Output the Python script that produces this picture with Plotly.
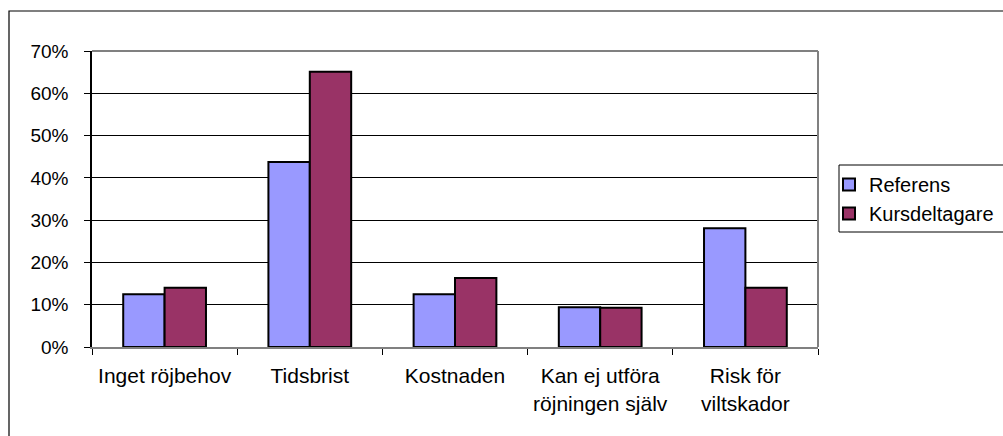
import plotly.graph_objects as go

categories = ["Inget röjbehov", "Tidsbrist", "Kostnaden",
              "Kan ej utföra<br>röjningen själv", "Risk för<br>viltskador"]
referens = [0.125, 0.4375, 0.125, 0.094, 0.281]
kursdeltagare = [0.14, 0.651, 0.163, 0.093, 0.14]
y_ticks = [0, 0.1, 0.2, 0.3, 0.4, 0.5, 0.6, 0.7]

FAMILY = "Arial, Liberation Sans, sans-serif"

fig = go.Figure()
fig.add_trace(go.Bar(x=categories, y=referens, name="Referens",
                     marker=dict(color="#9999FF", line=dict(color="#000000", width=2))))
fig.add_trace(go.Bar(x=categories, y=kursdeltagare, name="Kursdeltagare",
                     marker=dict(color="#993366", line=dict(color="#000000", width=2))))

W, H = 1003, 436
L, R, T, B = 92, 185, 51, 89
pw, ph = W - L - R, H - T - B

def px_x(v):
    return (v - L) / pw

def px_y(v):
    return (H - B - v) / ph

fig.update_layout(
    width=W, height=H,
    margin=dict(l=L, r=R, t=T, b=B, autoexpand=False),
    paper_bgcolor="#FFFFFF", plot_bgcolor="#FFFFFF",
    font=dict(family=FAMILY, size=19, color="#000000"),
    barmode="group", bargap=0.43, bargroupgap=0,
    showlegend=True,
    legend=dict(x=px_x(829), y=px_y(165), xanchor="left", yanchor="top",
                borderwidth=0, bgcolor="rgba(0,0,0,0)",
                font=dict(family=FAMILY, size=20, color="#000000"),
                tracegroupgap=0, itemwidth=30),
    shapes=[
        # outer chart frame
        dict(type="rect", xref="paper", yref="paper",
             x0=px_x(9), x1=px_x(1010), y0=px_y(440), y1=px_y(11),
             line=dict(color="#000000", width=1.2), layer="below"),
        # legend frame
        dict(type="rect", xref="paper", yref="paper",
             x0=px_x(839), x1=px_x(1010), y0=px_y(232), y1=px_y(165),
             line=dict(color="#000000", width=1), layer="below"),
        # plot area frame (top/right in grey)
        dict(type="line", xref="paper", yref="paper", x0=0, x1=1, y0=1, y1=1,
             line=dict(color="#808080", width=2)),
        dict(type="line", xref="paper", yref="paper", x0=1, x1=1, y0=0, y1=1,
             line=dict(color="#808080", width=2)),
    ],
)

fig.update_xaxes(
    type="category", showgrid=False, showline=True, linecolor="#808080", linewidth=2,
    ticks="outside", tickson="boundaries", ticklen=6, tickcolor="#000000",
    tickfont=dict(family=FAMILY, size=21, color="#000000"),
    ticklabelstandoff=9, zeroline=False,
)
fig.update_yaxes(
    range=[0, 0.7], tickvals=y_ticks, tickformat=".0%",
    showgrid=True, gridcolor="#000000", gridwidth=1,
    showline=True, linecolor="#000000", linewidth=1.5,
    ticks="outside", ticklen=6, tickcolor="#000000",
    tickfont=dict(family=FAMILY, size=19, color="#000000"),
    ticklabelstandoff=12, zeroline=False,
)

fig.write_html("out.html", config={"displayModeBar": False},
               post_script="document.body.style.margin='0';")
